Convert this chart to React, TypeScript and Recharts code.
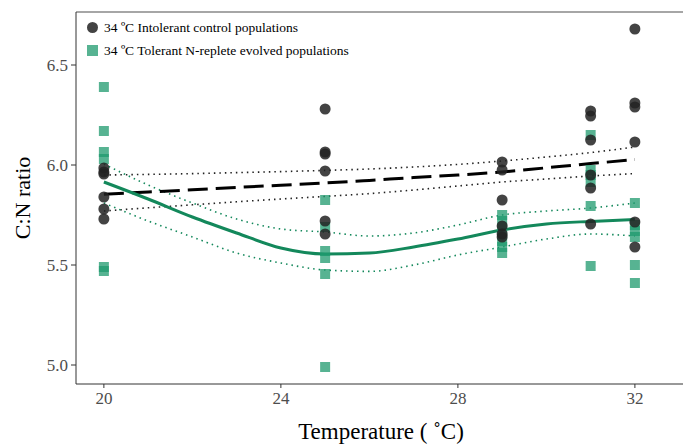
import { ComposedChart, Scatter, Line, XAxis, YAxis, ReferenceLine } from "recharts";

// C:N ratio per population, grouped by assay temperature
const TEMPS = [20, 25, 29, 31, 32];
const CONTROL_CN = [
  [5.985, 5.965, 5.955, 5.84, 5.78, 5.73],
  [6.28, 6.065, 6.055, 5.97, 5.72, 5.655],
  [6.015, 5.975, 5.825, 5.695, 5.655, 5.64],
  [6.27, 6.245, 6.125, 5.95, 5.885, 5.705],
  [6.68, 6.31, 6.29, 6.115, 5.715, 5.59],
];
const EVOLVED_CN = [
  [6.39, 6.17, 6.065, 6.03, 5.49, 5.47],
  [5.825, 5.69, 5.57, 5.535, 5.455, 4.99],
  [5.75, 5.72, 5.67, 5.62, 5.59, 5.56],
  [6.15, 5.975, 5.95, 5.915, 5.795, 5.495],
  [5.81, 5.7, 5.67, 5.64, 5.5, 5.41],
];

// smoothed fits with confidence bands
const FIT_TEMPS = [20, 21, 22, 23, 24, 25, 26, 27, 28, 29, 30, 31, 32];
const CONTROL_FIT = [5.854, 5.865, 5.876, 5.888, 5.899, 5.91, 5.923, 5.937, 5.95, 5.965, 5.986, 6.007, 6.027];
const CONTROL_HI = [5.95, 5.953, 5.957, 5.962, 5.967, 5.973, 5.98, 5.99, 6.003, 6.02, 6.04, 6.062, 6.09];
const CONTROL_LO = [5.77, 5.786, 5.801, 5.816, 5.83, 5.843, 5.857, 5.875, 5.895, 5.915, 5.93, 5.945, 5.957];
const EVOLVED_FIT = [5.915, 5.83, 5.74, 5.66, 5.585, 5.555, 5.56, 5.59, 5.63, 5.675, 5.705, 5.718, 5.727];
const EVOLVED_HI = [6.005, 5.9, 5.81, 5.73, 5.68, 5.665, 5.645, 5.66, 5.7, 5.75, 5.77, 5.785, 5.81];
const EVOLVED_LO = [5.81, 5.72, 5.64, 5.56, 5.51, 5.475, 5.468, 5.5, 5.55, 5.59, 5.63, 5.655, 5.645];

const X_TICKS = [20, 24, 28, 32];
const Y_TICKS = [5.0, 5.5, 6.0, 6.5];
const X_DOMAIN = [19.37, 33.087];
const Y_DOMAIN = [4.905, 6.765];

const CONTROL_LABEL = "34 ºC Intolerant control populations";
const EVOLVED_LABEL = "34 ºC Tolerant N-replete evolved populations";

const SERIF = "'Liberation Serif', 'DejaVu Serif', serif";
const BLACK = "#222222";
const GREEN = "#13885b";
const GREEN_PT = "#1f9a6d";

const toPoints = (values: number[][]) =>
  TEMPS.flatMap((t, i) => values[i].map((cn) => ({ t, cn })));
const toCurve = (ys: number[]) => FIT_TEMPS.map((t, i) => ({ t, cn: ys[i] }));

const CircleDot = (p: any) => (
  <circle cx={p.cx} cy={p.cy} r={5.5} fill={BLACK} fillOpacity={0.85} />
);
const SquareDot = (p: any) => (
  <rect x={p.cx - 5} y={p.cy - 5} width={10} height={10} fill={GREEN_PT} fillOpacity={0.75} />
);

const tickStyle = { fontFamily: SERIF, fontSize: 17, fill: "#4d4d4d" };

export default function App() {
  return (
    <div style={{ position: "fixed", left: 0, top: 0, width: 683, height: 445, background: "#fff" }}>
      <ComposedChart width={683} height={445} margin={{ top: 12, right: 0, bottom: 0, left: 0 }}>
        <XAxis
          dataKey="t"
          type="number"
          domain={X_DOMAIN}
          ticks={X_TICKS}
          allowDataOverflow
          tick={tickStyle}
          tickSize={4}
          tickMargin={4}
          height={61}
          stroke="#333"
          label={({ viewBox }: any) => (
            <text
              x={viewBox.x + 305}
              y={viewBox.y + 55}
              textAnchor="middle"
              fontFamily={SERIF}
              fontSize={23}
              fill="#000"
            >
              Temperature ( ˚C)
            </text>
          )}
        />
        <YAxis
          dataKey="cn"
          type="number"
          domain={Y_DOMAIN}
          ticks={Y_TICKS}
          allowDataOverflow
          tickFormatter={(v: number) => v.toFixed(1)}
          tick={tickStyle}
          tickSize={5}
          tickMargin={3}
          width={76}
          stroke="#333"
          label={({ viewBox }: any) => {
            const cx = 22;
            const cy = viewBox.y + viewBox.height / 2;
            return (
              <text
                x={cx}
                y={cy}
                transform={`rotate(-90 ${cx} ${cy})`}
                textAnchor="middle"
                dominantBaseline="central"
                fontFamily={SERIF}
                fontSize={22}
                fill="#000"
              >
                C:N ratio
              </text>
            );
          }}
        />
        {/* panel top border */}
        <ReferenceLine y={Y_DOMAIN[1]} stroke="#888" strokeWidth={1.5} ifOverflow="visible" />

        <Line data={toCurve(CONTROL_HI)} dataKey="cn" type="monotone" stroke={BLACK} strokeWidth={1.6}
          strokeDasharray="1.5 4" dot={false} activeDot={false} isAnimationActive={false} />
        <Line data={toCurve(CONTROL_LO)} dataKey="cn" type="monotone" stroke={BLACK} strokeWidth={1.6}
          strokeDasharray="1.5 4" dot={false} activeDot={false} isAnimationActive={false} />
        <Line data={toCurve(EVOLVED_HI)} dataKey="cn" type="monotone" stroke={GREEN} strokeWidth={1.6}
          strokeDasharray="1.5 4" dot={false} activeDot={false} isAnimationActive={false} />
        <Line data={toCurve(EVOLVED_LO)} dataKey="cn" type="monotone" stroke={GREEN} strokeWidth={1.6}
          strokeDasharray="1.5 4" dot={false} activeDot={false} isAnimationActive={false} />

        <Scatter data={toPoints(EVOLVED_CN)} dataKey="cn" shape={SquareDot} isAnimationActive={false} />
        <Scatter data={toPoints(CONTROL_CN)} dataKey="cn" shape={CircleDot} isAnimationActive={false} />

        <Line data={toCurve(CONTROL_FIT)} dataKey="cn" type="monotone" stroke="#000" strokeWidth={3}
          strokeDasharray="20 8" dot={false} activeDot={false} isAnimationActive={false} />
        <Line data={toCurve(EVOLVED_FIT)} dataKey="cn" type="monotone" stroke={GREEN} strokeWidth={3}
          dot={false} activeDot={false} isAnimationActive={false} />
      </ComposedChart>

      {/* legend, top-left inside the panel */}
      <div style={{ position: "absolute", left: 87, top: 16, fontFamily: SERIF, fontSize: 13.5, color: "#000", lineHeight: "23px" }}>
        <div style={{ display: "flex", alignItems: "center", gap: 6 }}>
          <span style={{ width: 11, height: 11, borderRadius: "50%", background: BLACK, opacity: 0.85 }} />
          <span>{CONTROL_LABEL}</span>
        </div>
        <div style={{ display: "flex", alignItems: "center", gap: 6 }}>
          <span style={{ width: 11, height: 11, background: GREEN_PT, opacity: 0.75 }} />
          <span>{EVOLVED_LABEL}</span>
        </div>
      </div>
    </div>
  );
}
